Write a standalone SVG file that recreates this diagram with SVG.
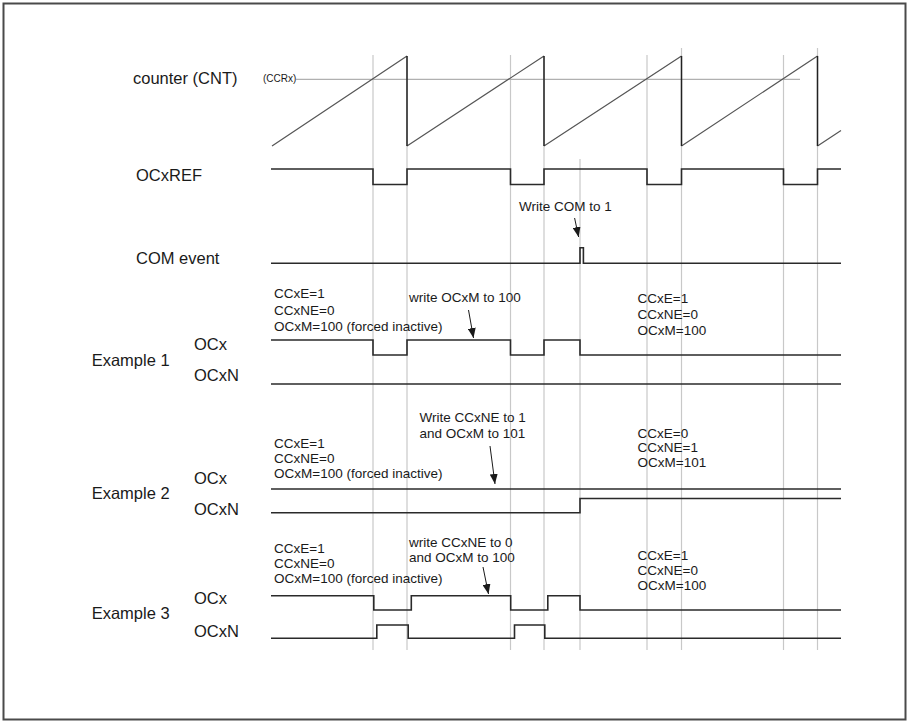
<svg xmlns="http://www.w3.org/2000/svg" width="915" height="723" viewBox="0 0 915 723">
<defs>
<style>
text{font-family:"Liberation Sans",Arial,sans-serif;fill:#1a1a1a}
.lbl{font-size:16.5px}
.sm{font-size:13.5px}
.tiny{font-size:10px}
.sig{fill:none;stroke:#2a2a2a;stroke-width:1.6}
.grid{stroke:#c8c8c8;stroke-width:1.2}
.ramp{fill:none;stroke:#555;stroke-width:1.2}
.arr{stroke:#1a1a1a;stroke-width:1;marker-end:url(#ah)}
</style>
<marker id="ah" viewBox="0 0 10 8" refX="10" refY="4" markerWidth="10" markerHeight="8" markerUnits="userSpaceOnUse" orient="auto">
<path d="M0,0 L10,4 L0,8 Z" fill="#1a1a1a"/>
</marker>
</defs>
<rect x="0" y="0" width="915" height="723" fill="#fff"/>
<rect x="3.5" y="3.5" width="902" height="716" fill="none" stroke="#4a4a4a" stroke-width="2"/>

<g id="grid">
<line class="grid" x1="373" y1="55" x2="373" y2="650"/>
<line class="grid" x1="407" y1="56" x2="407" y2="650"/>
<line class="grid" x1="510.5" y1="55" x2="510.5" y2="650"/>
<line class="grid" x1="544" y1="56" x2="544" y2="650"/>
<line class="grid" x1="580" y1="159" x2="580" y2="650"/>
<line class="grid" x1="647" y1="55" x2="647" y2="650"/>
<line class="grid" x1="681.5" y1="48" x2="681.5" y2="650"/>
<line class="grid" x1="783.5" y1="55" x2="783.5" y2="650"/>
<line class="grid" x1="817.5" y1="48" x2="817.5" y2="650"/>
</g>

<g id="counter">
<text class="lbl" x="133" y="84">counter (CNT)</text>
<text class="tiny" x="263" y="82">(CCRx)</text>
<line x1="296" y1="79.3" x2="800" y2="79.3" stroke="#b0b0b0" stroke-width="1.2"/>
<path class="ramp" d="M272,146 L407,56 M407,146 L544,56 M544,146 L681.5,56 M681.5,146 L817.5,56 M817.5,146 L841,130.4"/>
<path fill="none" stroke="#222" stroke-width="1.5" d="M407,56 V146 M544,56 V146 M681.5,56 V146 M817.5,56 V146"/>
</g>

<g id="ocxref">
<text class="lbl" x="136" y="181">OCxREF</text>
<path class="sig" d="M271,169 H373 V184.5 H407 V169 H510.5 V184.5 H544 V169 H647 V184.5 H681.5 V169 H783.5 V184.5 H817.5 V169 H841"/>
</g>

<g id="com-event">
<text class="lbl" x="136" y="264">COM event</text>
<text class="sm" x="519" y="211">Write COM to 1</text>
<path class="sig" d="M271,263.3 H580 V247.7 H583.4 V263.3 H841"/>
</g>

<g id="example1">
<text class="lbl" x="91.7" y="366">Example 1</text>
<text class="lbl" x="194" y="350">OCx</text>
<text class="lbl" x="194" y="381">OCxN</text>
<text class="sm" x="274" y="298">CCxE=1</text>
<text class="sm" x="274" y="314.5">CCxNE=0</text>
<text class="sm" x="274" y="331">OCxM=100 (forced inactive)</text>
<text class="sm" x="409" y="302">write OCxM to 100</text>
<text class="sm" x="637.5" y="303">CCxE=1</text>
<text class="sm" x="637.5" y="319">CCxNE=0</text>
<text class="sm" x="637.5" y="334.5">OCxM=100</text>
<path class="sig" d="M271,340 H373 V355 H407 V340 H510.5 V355 H544 V340 H580 V355 H841"/>
<path class="sig" d="M271,384 H841"/>
</g>

<g id="example2">
<text class="lbl" x="91.7" y="499">Example 2</text>
<text class="lbl" x="194" y="484">OCx</text>
<text class="lbl" x="194" y="515">OCxN</text>
<text class="sm" x="274" y="448">CCxE=1</text>
<text class="sm" x="274" y="463">CCxNE=0</text>
<text class="sm" x="274" y="478">OCxM=100 (forced inactive)</text>
<text class="sm" x="419.5" y="421.5">Write CCxNE to 1</text>
<text class="sm" x="419.5" y="437.5">and OCxM to 101</text>
<text class="sm" x="637.5" y="437.5">CCxE=0</text>
<text class="sm" x="637.5" y="452">CCxNE=1</text>
<text class="sm" x="637.5" y="466.5">OCxM=101</text>
<path class="sig" d="M271,489 H841"/>
<path class="sig" d="M271,512.7 H580 V498.5 H841"/>
</g>

<g id="example3">
<text class="lbl" x="91.7" y="619">Example 3</text>
<text class="lbl" x="194" y="604">OCx</text>
<text class="lbl" x="194" y="637">OCxN</text>
<text class="sm" x="274" y="553">CCxE=1</text>
<text class="sm" x="274" y="568">CCxNE=0</text>
<text class="sm" x="274" y="583">OCxM=100 (forced inactive)</text>
<text class="sm" x="409" y="546.5">write CCxNE to 0</text>
<text class="sm" x="409" y="561.5">and OCxM to 100</text>
<text class="sm" x="637.5" y="560">CCxE=1</text>
<text class="sm" x="637.5" y="575">CCxNE=0</text>
<text class="sm" x="637.5" y="590">OCxM=100</text>
<path class="sig" d="M271,595.7 H373.8 V610 H411.3 V595.7 H510.7 V610 H547.8 V595.7 H580 V610 H841"/>
<path class="sig" d="M271,638.3 H376.8 V625 H408.2 V638.3 H514.5 V625 H544.8 V638.3 H841"/>
</g>

<g id="connectors">
<line class="arr" x1="574.6" y1="218" x2="578.6" y2="237"/>
<line class="arr" x1="468.5" y1="310" x2="473.5" y2="338"/>
<line class="arr" x1="490" y1="446" x2="495" y2="484"/>
<line class="arr" x1="483" y1="567" x2="488.5" y2="594"/>
</g>
</svg>
